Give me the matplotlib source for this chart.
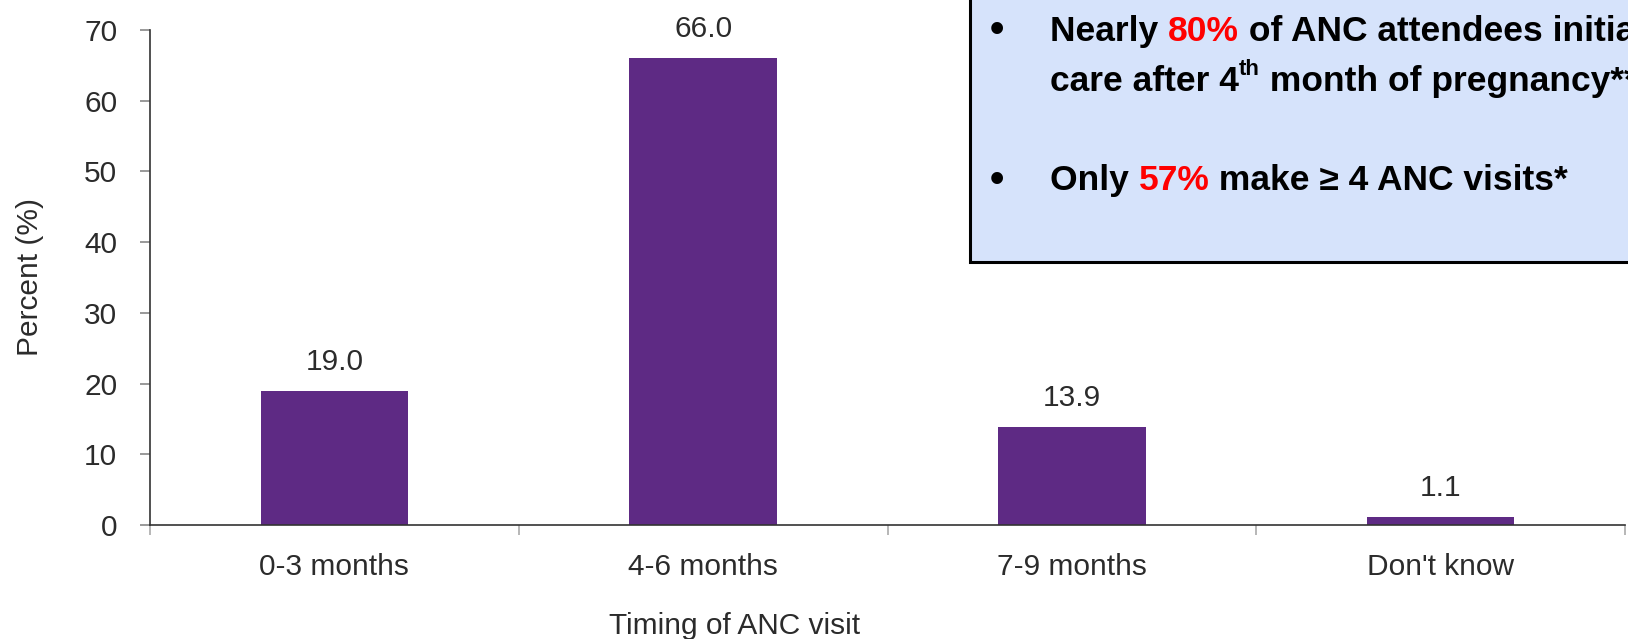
import matplotlib
matplotlib.use("Agg")
import matplotlib.pyplot as plt
from matplotlib.patches import Rectangle

categories = ["0-3 months", "4-6 months", "7-9 months", "Don't know"]
values = [19.0, 66.0, 13.9, 1.1]
yticks = [0, 10, 20, 30, 40, 50, 60, 70]

W, H = 1628, 639
fig = plt.figure(figsize=(W / 100, H / 100), dpi=100)
ax = fig.add_axes([150 / W, 1 - 525 / H, (1625 - 150) / W, (525 - 30) / H])

bar_color = "#5E2A84"
text_color = "#2b2b2b"
fam = "Liberation Sans"
lfs = 21.5
x = list(range(len(categories)))
ax.bar(x, values, width=0.4, color=bar_color, zorder=2)
ax.set_xlim(-0.5, 3.5)
ax.set_ylim(0, 70)
ax.set_yticks(yticks)
ax.set_yticklabels([str(t) for t in yticks], fontsize=lfs, color=text_color, family=fam)
ax.set_xticks([i - 0.5 for i in range(len(categories) + 1)])
ax.set_xticklabels([])
ax.set_xticks(x, minor=True)
ax.set_xticklabels(categories, minor=True, fontsize=lfs, color=text_color, family=fam)
ax.tick_params(axis="x", which="minor", length=0, pad=20)
ax.tick_params(axis="x", which="major", length=7, color="#aaaaaa", width=1.2)
ax.tick_params(axis="y", length=7, color="#888888", width=1.2, pad=16.5)
for s in ["top", "right"]:
    ax.spines[s].set_visible(False)
for s in ["left", "bottom"]:
    ax.spines[s].set_color("#333333")
    ax.spines[s].set_linewidth(1.2)
ax.set_ylabel("Percent (%)", fontsize=lfs, color=text_color, family=fam)
ax.yaxis.set_label_coords((44 - 150) / (1625 - 150), 0.5)

for xi, v in zip(x, values):
    ax.annotate(f"{v:.1f}", (xi, v), xytext=(0, 15), textcoords="offset points",
                ha="center", va="baseline", fontsize=lfs, color=text_color, family=fam)

fig.text(735 / W, 1 - 626 / H, "Timing of ANC visit", ha="center", va="center",
         fontsize=lfs, color=text_color, family=fam)

# Callout box
box = Rectangle((970 / W, 1 - 262 / H), 0.5, 0.6, transform=fig.transFigure,
                facecolor="#D6E3FB", edgecolor="black", linewidth=2.2, zorder=10, clip_on=False)
fig.add_artist(box)

bfam = "Liberation Sans"
fs = 25.5

fig.canvas.draw()
renderer = fig.canvas.get_renderer()


def seq_text(x0, y0, pieces):
    xp = x0
    for txt, col, size, dy in pieces:
        t = fig.text(xp / W, 1 - (y0 - dy) / H, txt, color=col, fontsize=size,
                     fontweight="bold", family=bfam, ha="left", va="baseline", zorder=11)
        bb = t.get_window_extent(renderer=renderer)
        xp += bb.width


for yy in [41.5, 191.5]:
    fig.text(997 / W, 1 - yy / H, "\u2022", fontsize=fs + 4, fontweight="bold", family=bfam,
             ha="center", va="baseline", zorder=11, color="black")

seq_text(1050, 41, [("Nearly ", "black", fs, 0), ("80%", "#FF0000", fs, 0),
                    (" of ANC attendees initiate", "black", fs, 0)])
seq_text(1050, 91, [("care after 4", "black", fs, 0), ("th", "black", 16, 16),
                    (" month of pregnancy**", "black", fs, 0)])
seq_text(1050, 190, [("Only ", "black", fs, 0), ("57%", "#FF0000", fs, 0),
                     (" make \u2265 4 ANC visits*", "black", fs, 0)])

fig.savefig("out.png", dpi=100, facecolor="white")
